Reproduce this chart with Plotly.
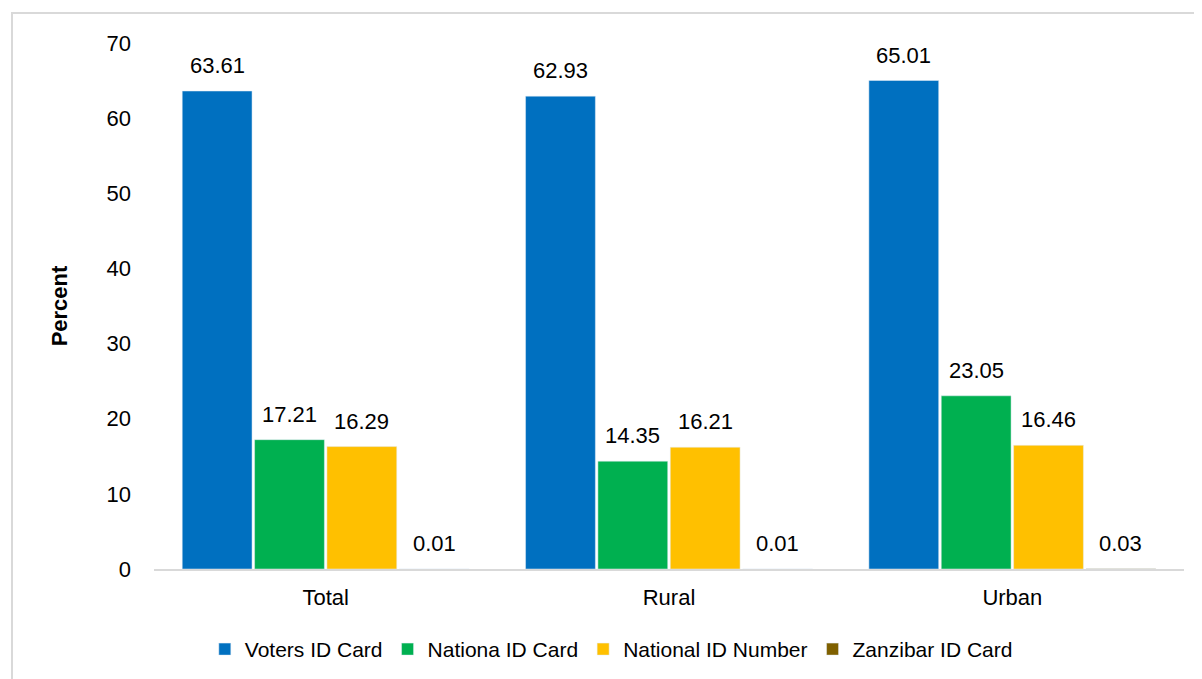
import plotly.graph_objects as go

categories = ["Total", "Rural", "Urban"]
series_names = ["Voters ID Card", "Nationa ID Card", "National ID Number", "Zanzibar ID Card"]
voters_id = [63.61, 62.93, 65.01]
nationa_id = [17.21, 14.35, 23.05]
national_id_number = [16.29, 16.21, 16.46]
zanzibar_id = [0.01, 0.01, 0.03]
colors = ["#0070C0", "#00B050", "#FFC000", "#7F6000"]
y_ticks = [0, 10, 20, 30, 40, 50, 60, 70]

FONT = "Liberation Sans, Arial, sans-serif"
FS = 22
BARGAP = 0.157
N = 4
slot = (1 - BARGAP) / N

all_series = [voters_id, nationa_id, national_id_number, zanzibar_id]
xidx = list(range(len(categories)))

fig = go.Figure()
for name, vals, col in zip(series_names, all_series, colors):
    fig.add_trace(go.Bar(x=xidx, y=vals, name=name, marker_color=col))

annotations = []
for i, vals in enumerate(all_series):
    for j, v in enumerate(vals):
        annotations.append(dict(
            x=j + (i - (N - 1) / 2) * slot, y=v, xref="x", yref="y",
            text=f"{v:.2f}", showarrow=False, yanchor="bottom", yshift=11,
            font=dict(size=FS, family=FONT, color="#000000")))

# page body has an 8px margin, so offsets below compensate
OFF = 8
W, H = 1202, 679
L, T = 154 - OFF, 43 - OFF
B = H - (569 - OFF)
R = W - (1184 - OFF)
pw, ph = W - L - R, H - T - B

fig.update_layout(
    width=W, height=H,
    margin=dict(l=L, r=R, t=T, b=B, autoexpand=False),
    paper_bgcolor="white", plot_bgcolor="white",
    barmode="group", bargap=BARGAP, bargroupgap=0.035,
    font=dict(family=FONT, size=FS, color="#000000"),
    showlegend=True,
    legend=dict(orientation="h", x=0.444, xanchor="center", y=-0.114, yanchor="top",
                font=dict(size=21, family=FONT), itemwidth=30, traceorder="normal"),
    xaxis=dict(showline=True, linecolor="#D9D9D9", linewidth=2, ticks="", showgrid=False,
               tickmode="array", tickvals=xidx, ticktext=categories, range=[-0.5, 2.5],
               tickfont=dict(size=FS, family=FONT), ticklabelstandoff=8, automargin=False),
    yaxis=dict(range=[0, 70], tickvals=y_ticks, showgrid=False, zeroline=False, showline=False,
               ticks="", tickfont=dict(size=FS, family=FONT), ticklabelstandoff=22, automargin=False,
               title=dict(text="<b>Percent</b>", font=dict(size=FS, family=FONT), standoff=32)),
    annotations=annotations,
    shapes=[dict(type="rect", xref="paper", yref="paper",
                 x0=(12 - OFF - L) / pw, x1=(W + 10 - L) / pw,
                 y0=(H - B - (H + 10)) / ph, y1=(H - B - (13 - OFF)) / ph,
                 line=dict(color="#D9D9D9", width=2), fillcolor="rgba(0,0,0,0)", layer="below")],
)

fig.write_html("out.html")
